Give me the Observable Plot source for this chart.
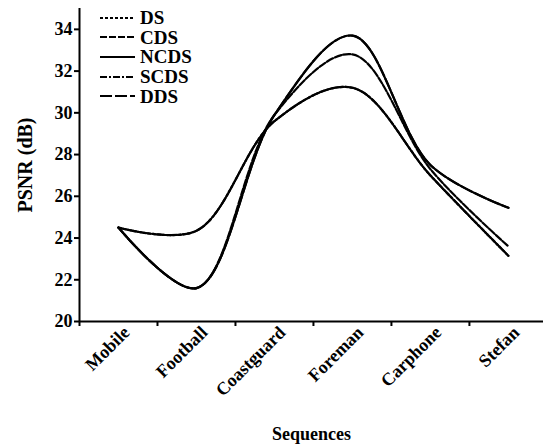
<!DOCTYPE html>
<html>
<head>
<meta charset="utf-8">
<script src="https://cdn.jsdelivr.net/npm/d3@7"></script>
<script src="https://cdn.jsdelivr.net/npm/@observablehq/plot@0.6"></script>
<style>
  html, body { margin: 0; padding: 0; background: white; }
  #wrap { position: relative; width: 544px; height: 446px; font-family: "Liberation Serif"; }
  #legend { position: absolute; left: 99px; top: 8px; font-family: "Liberation Serif"; font-weight: bold; font-size: 19px; color: black; }
  #legend .row { display: flex; align-items: center; height: 19.6px; }
  #legend span { line-height: 15px; display: inline-block; }
  #legend svg { margin-right: 4px; }
</style>
</head>
<body>
<div id="wrap"><div id="legend"></div></div>
<script>
const categories = ["Mobile", "Football", "Coastguard", "Foreman", "Carphone", "Stefan"];
const seriesNames = ["DS", "CDS", "NCDS", "SCDS", "DDS"];
const DS   = [24.5, 24.35, 29.6, 31.2, 27.0, 23.15];
const CDS  = [24.5, 21.6, 29.9, 32.8, 27.3, 23.6];
const NCDS = [24.5, 21.6, 29.9, 33.7, 27.5, 25.45];
const SCDS = [24.5, 24.35, 29.6, 31.2, 27.0, 23.15];
const DDS  = [24.5, 21.6, 29.9, 33.7, 27.5, 25.45];
const yTicks = [20, 22, 24, 26, 28, 30, 32, 34];

const seriesValues = {DS, CDS, NCDS, SCDS, DDS};
const dashes = {DS: "3,2", CDS: "7,2", NCDS: null, SCDS: "7,2,2,2", DDS: "12,3"};

const rows = [];
for (const s of seriesNames) {
  seriesValues[s].forEach((v, i) => rows.push({series: s, x: i, y: v}));
}

const lineMarks = seriesNames.map(s =>
  Plot.line(rows.filter(d => d.series === s), {
    x: "x", y: "y", curve: "catmull-rom",
    stroke: "black", strokeWidth: 2.2,
    strokeDasharray: dashes[s]
  })
);

const chart = Plot.plot({
  width: 544,
  height: 446,
  marginLeft: 79,
  marginRight: 1,
  marginTop: 8,
  marginBottom: 125,
  style: {fontFamily: "Liberation Serif", fontWeight: "bold", fontSize: "18px", color: "black", background: "white"},
  x: {domain: [-0.5, 5.45]},
  y: {domain: [20, 35]},
  marks: [
    Plot.axisY({ticks: yTicks, tickSize: 5, tickPadding: 2, strokeWidth: 2, label: null}),
    Plot.axisY({ticks: [], label: "PSNR (dB)", labelAnchor: "center", labelArrow: "none", labelOffset: 62, fontSize: 20, dy: 4}),
    Plot.axisX({ticks: [-0.5, 0.5, 1.5, 2.5, 3.5, 4.5], tickSize: 5, strokeWidth: 2, tickFormat: () => "", label: null}),
    Plot.axisX({ticks: [0, 1, 2, 3, 4, 5], tickSize: 0, tickRotate: -45, tickPadding: 8, dx: 8, tickFormat: i => categories[i], label: "Sequences", labelAnchor: "center", labelArrow: "none", labelOffset: 118}),
    Plot.ruleX([-0.5], {strokeWidth: 2}),
    Plot.ruleY([20], {strokeWidth: 2}),
    ...lineMarks
  ]
});
d3.select(chart).selectAll("text").style("font-family", "Liberation Serif");
document.getElementById("wrap").prepend(chart);

const legend = document.getElementById("legend");
for (const s of seriesNames) {
  const row = document.createElement("div");
  row.className = "row";
  const ns = "http://www.w3.org/2000/svg";
  const svg = document.createElementNS(ns, "svg");
  svg.setAttribute("width", 37);
  svg.setAttribute("height", 8);
  const ln = document.createElementNS(ns, "line");
  ln.setAttribute("x1", 1); ln.setAttribute("x2", 36);
  ln.setAttribute("y1", 4); ln.setAttribute("y2", 4);
  ln.setAttribute("stroke", "black");
  ln.setAttribute("stroke-width", 2.2);
  if (dashes[s]) ln.setAttribute("stroke-dasharray", dashes[s]);
  svg.appendChild(ln);
  const t = document.createElement("span");
  t.textContent = s;
  row.appendChild(svg);
  row.appendChild(t);
  legend.appendChild(row);
}
</script>
</body>
</html>
